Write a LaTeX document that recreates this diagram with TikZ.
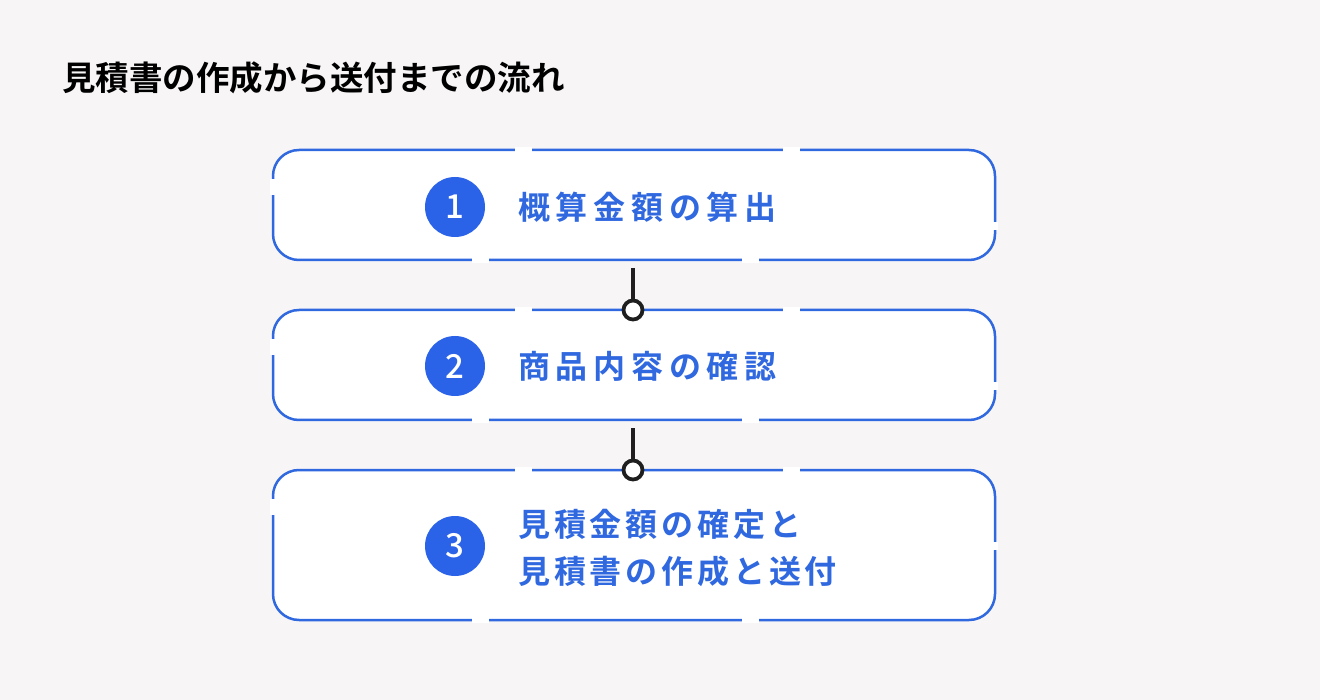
\documentclass[tikz,border=0pt]{standalone}
\usepackage{fontspec}
\setmainfont{Noto Sans CJK JP}[BoldFont={* Bold}]
\newfontfamily\jpb{Noto Sans CJK JP Bold}[LetterSpace=18]
\newfontfamily\jpc{Noto Sans CJK JP Bold}[LetterSpace=12]
\newfontfamily\jpt{Noto Sans CJK JP Bold}
\newfontfamily\jpm{Noto Sans CJK JP Medium}
\definecolor{bg}{HTML}{F7F5F6}
\definecolor{bl}{HTML}{3068E0}
\definecolor{cb}{HTML}{2B63E8}
\begin{document}
\begin{tikzpicture}[x=1pt,y=-1pt,
  box/.style={draw=bl,line width=2.5pt,fill=white,rounded corners=26pt},
  gap/.style={fill=white,draw=none},
  num/.style={circle,fill=cb,minimum size=60pt,inner sep=0,text=white,font=\jpm\fontsize{33}{33}\selectfont},
  lab/.style={anchor=west,text=bl,inner sep=0,align=left,font=\jpb\fontsize{32}{47}\selectfont},
  con/.style={line width=3.8pt,draw=black!88},
  ring/.style={circle,draw=black!88,line width=3.8pt,fill=white,minimum size=19pt,inner sep=0}]
\fill[bg] (0,0) rectangle (1320,700);
\node[anchor=west,inner sep=0,font=\jpt\fontsize{33.5}{33.5}\selectfont] (title) at (62,78) {見積書の作成から送付までの流れ};
\foreach \t/\b/\n in {150/260/a,310/420/b,470/620/c}{
  \draw[box] (273,\t) rectangle (995,\b);
  \fill[gap] (515,\t-3) rectangle (532,\t+3);
  \fill[gap] (783,\t-3) rectangle (800,\t+3);
  \fill[gap] (472,\b-3) rectangle (489,\b+3);
  \fill[gap] (742,\b-3) rectangle (759,\b+3);
  \fill[gap] (270,\t+29) rectangle (276,\t+45);
  \fill[gap] (992,\t+72) rectangle (998,\t+80);
}
\node[num] (n1) at (455,207) {1};
\node[num] (n2) at (455,366) {2};
\node[num] (n3) at (455,546) {3};
\node[lab] (l1) at (518,207) {概算金額の算出};
\node[lab] (l2) at (518,366) {商品内容の確認};
\node[lab,font=\jpc\fontsize{32}{47}\selectfont] (l3) at (518,548) {見積金額の確定と\\見積書の作成と送付};
\coordinate (t1) at (633,268);
\coordinate (t2) at (633,428);
\node[ring] (o1) at (633,310) {};
\node[ring] (o2) at (633,470) {};
\draw[con] (t1) -- (o1.north);
\draw[con] (t2) -- (o2.north);
\end{tikzpicture}
\end{document}
